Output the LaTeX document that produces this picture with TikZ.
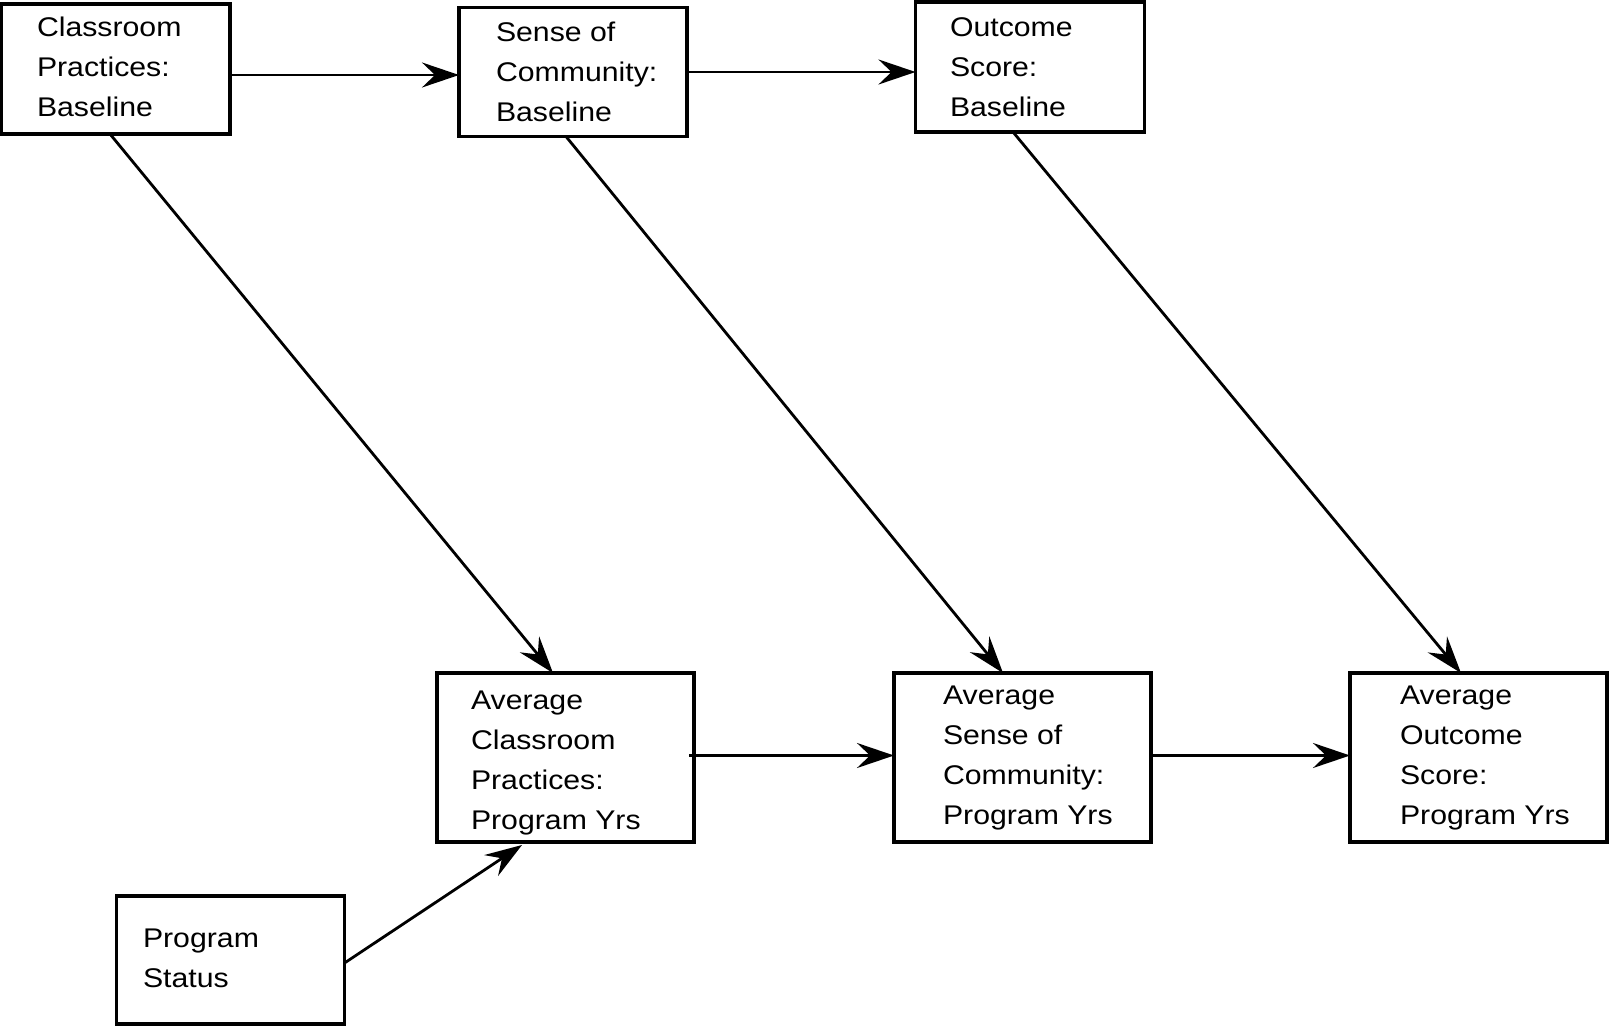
\documentclass[tikz,border=0pt]{standalone}
\usepackage{fontspec}
\setmainfont{Liberation Sans}[FakeStretch=1.12]
\usetikzlibrary{arrows.meta,calc}
\begin{document}
\begin{tikzpicture}[x=1pt,y=-1pt,
  box/.style={draw,line width=3.2pt,inner sep=0pt,outer sep=0pt,anchor=north west},
  lbl/.style={anchor=base west,align=left,inner sep=0pt,outer sep=0pt,font=\fontsize{27}{40}\selectfont},
  conn/.style={line width=2.8pt,-{Stealth[length=37pt,width=25pt,inset=13pt]}}]
\useasboundingbox (0,0) rectangle (1609,1027);
% boxes
\node[box,minimum width=228.5pt,minimum height=130pt] (b1) at (1.5,4) {};
\node[box,minimum width=228pt,minimum height=129pt] (b2) at (459,7.5) {};
\node[box,minimum width=229pt,minimum height=130pt] (b3) at (915.5,2) {};
\node[box,minimum width=257pt,minimum height=169pt] (b4) at (437,673) {};
\node[box,minimum width=257pt,minimum height=169pt] (b5) at (894,673) {};
\node[box,minimum width=257pt,minimum height=169pt] (b6) at (1350,673) {};
\node[box,minimum width=228pt,minimum height=128pt] (b7) at (116.5,896) {};
% labels (anchored on the baseline of the last line)
\node[lbl] (t1) at (37,117) {Classroom\\Practices:\\Baseline};
\node[lbl] (t2) at (496,122) {Sense of\\Community:\\Baseline};
\node[lbl] (t3) at (950,117) {Outcome\\Score:\\Baseline};
\node[lbl] (t4) at (471,829) {Average\\Classroom\\Practices:\\Program Yrs};
\node[lbl] (t5) at (943,824) {Average\\Sense of\\Community:\\Program Yrs};
\node[lbl] (t6) at (1400,824) {Average\\Outcome\\Score:\\Program Yrs};
\node[lbl] (t7) at (143,987) {Program\\Status};
% connectors
\draw[conn] ($(b1.east)+(1,6)$) -- ($(b2.west)+(0,3)$);
\draw[conn] (b2.east) -- (b3.west |- b2.east);
\draw[conn] ($(b4.east)+(-5,-2)$) -- ($(b5.west)+(0,-2)$);
\draw[conn] ($(b5.east)+(0,-2)$) -- ($(b6.west)+(0,-2)$);
\draw[conn] ($(b1.south west)+(108.5,0)$) -- ($(b4.north west)+(116,0)$);
\draw[conn] ($(b2.south west)+(107,0)$) -- ($(b5.north west)+(109,0)$);
\draw[conn] ($(b3.south west)+(97.5,0)$) -- ($(b6.north west)+(111,0)$);
\draw[conn] ($(b7.east)+(0,3)$) -- ($(b4.south west)+(85,3)$);
\end{tikzpicture}
\end{document}
